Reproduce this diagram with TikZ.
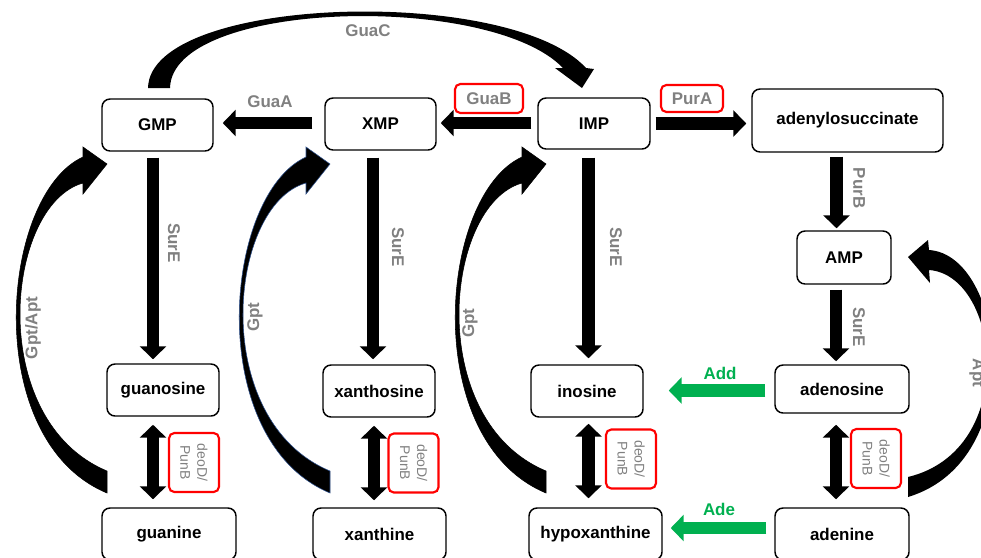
\documentclass[tikz,border=0pt]{standalone}
\usepackage{fontspec}
\setmainfont{Liberation Sans}
\usetikzlibrary{arrows.meta}
\definecolor{enzgray}{RGB}{128,128,128}
\definecolor{adegreen}{RGB}{0,176,80}
\definecolor{boxred}{RGB}{255,0,0}
\definecolor{edgeblue}{RGB}{47,82,143}
\tikzset{
metab/.style={draw, rounded corners=6pt, line width=1.1pt, inner sep=0pt,
  font=\bfseries\fontsize{12.7}{15}\selectfont},
enz/.style={text=enzgray, inner sep=0pt, font=\bfseries\fontsize{12.7}{15}\selectfont},
redbox/.style={enz, draw=boxred, line width=1.6pt, rounded corners=4pt},
nucl/.style={redbox, font=\fontsize{10.5}{12.75}\selectfont, align=center, rotate=-90,
  minimum width=44.25pt, minimum height=37.5pt},
blk/.style={line width=9.5pt, -{Triangle[length=9.75pt,width=19.5pt]}},
both/.style={line width=9.5pt, {Triangle[length=9.75pt,width=19.5pt]}-{Triangle[length=9.75pt,width=19.5pt]}},
grn/.style={blk, draw=adegreen},
grnlab/.style={enz, text=adegreen},
}

\begin{document}
\begin{tikzpicture}[x=0.75pt, y=-0.75pt]
        \clip (0,0) rectangle (981,557);

        \node[metab, minimum width=83.25pt, minimum height=39pt] (GMP) at (157.5,125) {GMP};
        \node[metab, minimum width=83.25pt, minimum height=39pt] (XMP) at (380.5,124) {XMP};
        \node[metab, minimum width=84pt, minimum height=38.25pt] (IMP) at (594,123.5) {IMP};
        \node[metab, minimum width=143.25pt, minimum height=47.25pt] (adsucc) at (847.5,120.5) {adenylosuccinate};
        \node[metab, minimum width=70.5pt, minimum height=39.75pt] (AMP) at (844,257.5) {AMP};
        \node[metab, minimum width=84pt, minimum height=39pt] (guanosine) at (163,390) {guanosine};
        \node[metab, minimum width=84pt, minimum height=39pt] (xanthosine) at (379,391) {xanthosine};
        \node[metab, minimum width=84pt, minimum height=39pt] (inosine) at (587,391) {inosine};
        \node[metab, minimum width=100.5pt, minimum height=36pt] (adenosine) at (842,389) {adenosine};
        \node[metab, minimum width=100.5pt, minimum height=39pt] (guanine) at (169,534) {guanine};
        \node[metab, minimum width=99.75pt, minimum height=39pt] (xanthine) at (379.5,534) {xanthine};
        \node[metab, minimum width=99.75pt, minimum height=39pt] (hypoxanthine) at (595.5,534) {hypoxanthine};
        \node[metab, minimum width=100.5pt, minimum height=39pt] (adenine) at (842,534) {adenine};

        \draw[blk] ([shift={(-12,-1)}]XMP.west) -- ([shift={(9,-2)}]GMP.east);
        \draw[blk] ([shift={(-6,-0.5)}]IMP.west) -- ([shift={(4,-1)}]XMP.east);
        \draw[blk] ([shift={(5,0)}]IMP.east) -- ([shift={(-5,3)}]adsucc.west);
        \draw[blk] ([shift={(-11,4)}]adsucc.south) -- ([shift={(-7.5,-2)}]AMP.north);
        \draw[blk] ([shift={(-4.5,6)}]GMP.south) -- ([shift={(-10,-4)}]guanosine.north);
        \draw[blk] ([shift={(-7.5,7)}]XMP.south) -- ([shift={(-6,-5)}]xanthosine.north);
        \draw[blk] ([shift={(-5.5,8)}]IMP.south) -- ([shift={(1.5,-6)}]inosine.north);
        \draw[blk] ([shift={(-8,5)}]AMP.south) -- ([shift={(-6,-3)}]adenosine.north);
        \draw[both] ([shift={(-10,8)}]guanosine.south) -- ([shift={(-16,-8)}]guanine.north);
        \draw[both] ([shift={(-5,8)}]xanthosine.south) -- ([shift={(-5.5,-7)}]xanthine.north);
        \draw[both] ([shift={(1.5,6)}]inosine.south) -- ([shift={(-7,-9)}]hypoxanthine.north);
        \draw[both] ([shift={(-6,11)}]adenosine.south) -- ([shift={(-6,-8)}]adenine.north);
        \draw[grn] ([shift={(-9,1.5)}]adenosine.west) -- ([shift={(25,-0.5)}]inosine.east);
        \draw[grn] ([shift={(-8,-6)}]adenine.west) -- ([shift={(8,-6)}]hypoxanthine.east);

        \fill (148,88) .. controls (150,-5) and (510,-15) .. (586,68) -- (594,69) -- (582,88)
          -- (555,68) -- (563,68) .. controls (490,-8) and (172,0) .. (170,88) -- cycle;
        \foreach \dx/\edge in {0/black, 223/edgeblue, 439/black} {
          \filldraw[draw=\edge, line width=0.4pt, shift={(\dx,0)}]
            (83,157) .. controls (0,195) and (-20,440) .. (107,493) -- (107,471)
            .. controls (-15,420) and (5,205) .. (83,183) -- (83,194) -- (107,164) -- (83,147) -- cycle;
        }
        \fill (929,250) .. controls (1005,255) and (1030,460) .. (908,497) -- (908,477)
          .. controls (1020,450) and (1000,275) .. (929,270) -- (930,283) -- (908,257) -- (928,240) -- cycle;

        \node[enz] (guaC) at (368,31) {GuaC};
        \node[enz] (guaA) at (270,102) {GuaA};
        \node[redbox, minimum width=51pt, minimum height=21.75pt] (guaB) at (489,98.5) {GuaB};
        \node[redbox, minimum width=46.5pt, minimum height=20.25pt] (purA) at (692,98.5) {PurA};
        \node[enz, rotate=-90] (purB) at (859,188) {PurB};
        \node[enz, rotate=-90] (surE1) at (174,243) {SurE};
        \node[enz, rotate=-90] (surE2) at (398,247) {SurE};
        \node[enz, rotate=-90] (surE3) at (616,247) {SurE};
        \node[enz, rotate=-90] (surE4) at (859,327) {SurE};
        \node[enz, rotate=90] (gptapt) at (33,328) {Gpt/Apt};
        \node[enz, rotate=90] (gpt1) at (255,317) {Gpt};
        \node[enz, rotate=90] (gpt2) at (470,323) {Gpt};
        \node[enz, rotate=-90] (apt) at (977,373) {Apt};
        \node[grnlab] (add) at (720,373) {Add};
        \node[grnlab] (ade) at (719,509) {Ade};
        \node[nucl] (deo1) at (194,462.5) {deoD/\\PunB};
        \node[nucl] (deo2) at (413.5,463) {deoD/\\PunB};
        \node[nucl] (deo3) at (631,459) {deoD/\\PunB};
        \node[nucl] (deo4) at (876,458.5) {deoD/\\PunB};
\end{tikzpicture}
\end{document}
